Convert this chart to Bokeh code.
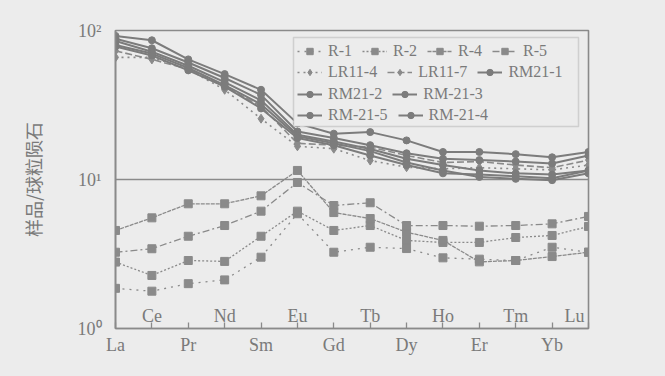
from bokeh.plotting import figure
from bokeh.models import Range1d, FixedTicker, Legend, LegendItem, BoxAnnotation, ColumnDataSource
from bokeh.core.properties import value
from bokeh.embed import file_html
from bokeh.resources import INLINE

# ---------------- data ----------------
elements = ["La", "Ce", "Pr", "Nd", "Sm", "Eu", "Gd", "Tb", "Dy", "Ho", "Er", "Tm", "Yb", "Lu"]

R_1 = [1.86, 1.78, 2.00, 2.12, 3.01, 5.89, 3.25, 3.51, 3.44, 2.98, 2.92, 2.86, 3.51, 3.25]
R_2 = [2.79, 2.27, 2.86, 2.82, 4.16, 6.13, 4.55, 4.91, 3.90, 3.78, 3.78, 4.08, 4.21, 4.84]
R_4 = [4.55, 5.53, 6.87, 6.87, 7.77, 11.5, 6.00, 5.47, 4.43, 3.90, 2.80, 2.86, 3.04, 3.25]
R_5 = [3.25, 3.43, 4.16, 4.91, 6.13, 9.55, 6.69, 6.98, 4.91, 4.91, 4.86, 4.91, 5.04, 5.65]

LR11_4 = [66.0, 66.0, 55.0, 40.0, 25.6, 16.7, 16.1, 13.4, 12.1, 11.8, 12.0, 11.8, 11.6, 12.5]
LR11_7 = [73.0, 64.0, 55.0, 42.0, 31.0, 17.5, 17.0, 16.5, 14.5, 13.0, 13.2, 12.5, 12.0, 13.5]
RM21_1 = [92.0, 86.0, 64.0, 51.0, 40.0, 23.8, 20.3, 20.8, 18.3, 15.3, 15.3, 14.8, 14.1, 15.3]
RM21_2 = [88.0, 76.0, 61.0, 48.0, 37.0, 21.0, 19.0, 17.0, 15.0, 13.8, 13.5, 13.2, 12.8, 14.5]
RM_21_3 = [85.0, 72.0, 58.0, 45.0, 34.0, 20.0, 18.0, 16.0, 13.8, 12.5, 11.5, 11.0, 10.8, 11.5]
RM_21_5 = [80.0, 70.0, 56.0, 43.0, 32.0, 19.5, 17.5, 15.5, 13.0, 11.5, 10.4, 10.1, 9.9, 11.0]
RM_21_4 = [78.0, 68.0, 54.0, 42.0, 30.0, 19.0, 17.0, 14.5, 12.5, 11.0, 10.8, 10.5, 10.2, 11.5]

y_ticks = [1, 10, 100]
y_tick_labels = ["10\u2070", "10\u00b9", "10\u00b2"]
y_label = "样品/球粒陨石"

legend_rows = [["R-1", "R-2", "R-4", "R-5"],
               ["LR11-4", "LR11-7", "RM21-1"],
               ["RM21-2", "RM-21-3"],
               ["RM-21-5", "RM-21-4"]]

# ---------------- style ----------------
BG = "#ececec"
LINE = "#8a8a8a"
DARK = "#7c7c7c"
TXT = "#7a7a7a"
SERIF = "Liberation Serif"

xs = list(range(len(elements)))

p = figure(width=649, height=360, y_axis_type="log",
           x_range=Range1d(0, len(elements) - 1), y_range=Range1d(1, 100),
           output_backend="svg", toolbar_location=None,
           min_border_left=115, min_border_right=61, min_border_top=30, min_border_bottom=32,
           background_fill_color=BG, border_fill_color=BG)

p.outline_line_color = LINE
p.outline_line_width = 1.6

# x axis
p.xaxis.ticker = FixedTicker(ticks=xs)
p.xaxis.major_label_overrides = {i: (elements[i] if i % 2 == 0 else "") for i in xs}
p.xaxis.major_tick_in = 6
p.xaxis.major_tick_out = 0
p.xaxis.minor_tick_line_color = None
p.xaxis.major_tick_line_color = LINE
p.xaxis.major_tick_line_width = 1.3
p.xaxis.axis_line_color = LINE
p.xaxis.axis_line_width = 1.6
p.xaxis.major_label_text_font = SERIF
p.xaxis.major_label_text_font_size = "18px"
p.xaxis.major_label_text_color = TXT
p.xaxis.major_label_standoff = 6

# y axis
p.yaxis.ticker = FixedTicker(ticks=y_ticks)
p.yaxis.major_label_overrides = {float(t): l for t, l in zip(y_ticks, y_tick_labels)}
p.yaxis.major_tick_line_color = None
p.yaxis.minor_tick_line_color = None
p.yaxis.axis_line_color = LINE
p.yaxis.axis_line_width = 1.6
p.yaxis.major_label_text_font = SERIF
p.yaxis.major_label_text_font_size = "18px"
p.yaxis.major_label_text_color = TXT
p.yaxis.major_label_standoff = 8
p.yaxis.axis_label = y_label
p.yaxis.axis_label_text_font = "Noto Sans CJK SC"
p.yaxis.axis_label_text_font_style = "normal"
p.yaxis.axis_label_text_font_size = "18px"
p.yaxis.axis_label_text_color = TXT
p.yaxis.axis_label_standoff = 29

p.xgrid.grid_line_color = None
p.ygrid.ticker = FixedTicker(ticks=y_ticks)
p.ygrid.grid_line_color = LINE
p.ygrid.grid_line_width = 1.5

# inner (staggered) element labels
inner_idx = [i for i in xs if i % 2 == 1]
inner_src = ColumnDataSource(dict(
    x=inner_idx,
    y=[1] * len(inner_idx),
    t=[elements[i] for i in inner_idx],
    align=["right" if i == len(elements) - 1 else "center" for i in inner_idx],
    dx=[-4 if i == len(elements) - 1 else 0 for i in inner_idx],
))
p.text(x="x", y="y", text="t", source=inner_src, text_align="align",
       text_baseline="alphabetic", y_offset=-13, x_offset="dx",
       text_font=value(SERIF), text_font_size="18px", text_color=TXT)

renderers = {}

def add_series(name, vals, dash, width, marker, msize, color):
    r1 = p.line(xs, vals, line_color=color, line_width=width, line_dash=dash)
    r2 = p.scatter(xs, vals, marker=marker, size=msize, fill_color=color, line_color=color)
    renderers[name] = [r1, r2]

add_series("R-1", R_1, "2 5", 1.3, "square", 8, LINE)
add_series("R-2", R_2, "2 2", 1.3, "square", 8, LINE)
add_series("R-4", R_4, "4 1", 1.3, "square", 8, LINE)
add_series("R-5", R_5, "7 3 2 3", 1.3, "square", 8, LINE)
add_series("LR11-4", LR11_4, "2 4", 1.6, "diamond", 9, LINE)
add_series("LR11-7", LR11_7, "7 3", 1.6, "diamond", 9, LINE)
add_series("RM21-1", RM21_1, "solid", 2.0, "circle", 7, DARK)
add_series("RM21-2", RM21_2, "solid", 2.0, "circle", 7, DARK)
add_series("RM-21-3", RM_21_3, "solid", 2.0, "circle", 7, DARK)
add_series("RM-21-5", RM_21_5, "solid", 2.0, "circle", 7, DARK)
add_series("RM-21-4", RM_21_4, "solid", 2.0, "circle", 7, DARK)

# legend frame (canvas units)
box = BoxAnnotation(left=293, right=578, top=37, bottom=126,
                    left_units="canvas", right_units="canvas",
                    top_units="canvas", bottom_units="canvas",
                    fill_color=BG, fill_alpha=1.0, line_color=LINE, line_width=1.5)
p.add_layout(box)

row_bottoms = [268.5, 247, 225.5, 204]
for row, vy in zip(legend_rows, row_bottoms):
    items = [LegendItem(label=n, renderers=renderers[n]) for n in row]
    lg = Legend(items=items, orientation="horizontal", location=(182, vy),
                border_line_color=None, background_fill_alpha=0.0,
                padding=0, margin=0, spacing=10,
                glyph_width=25, glyph_height=16, label_height=16, label_standoff=6,
                label_text_font=SERIF, label_text_font_size="16px",
                label_text_color=TXT)
    p.add_layout(lg)

html = file_html(p, INLINE)
html = html.replace("<body>", '<body style="background-color:#ececec;">')
open("out.html", "w").write(html)
